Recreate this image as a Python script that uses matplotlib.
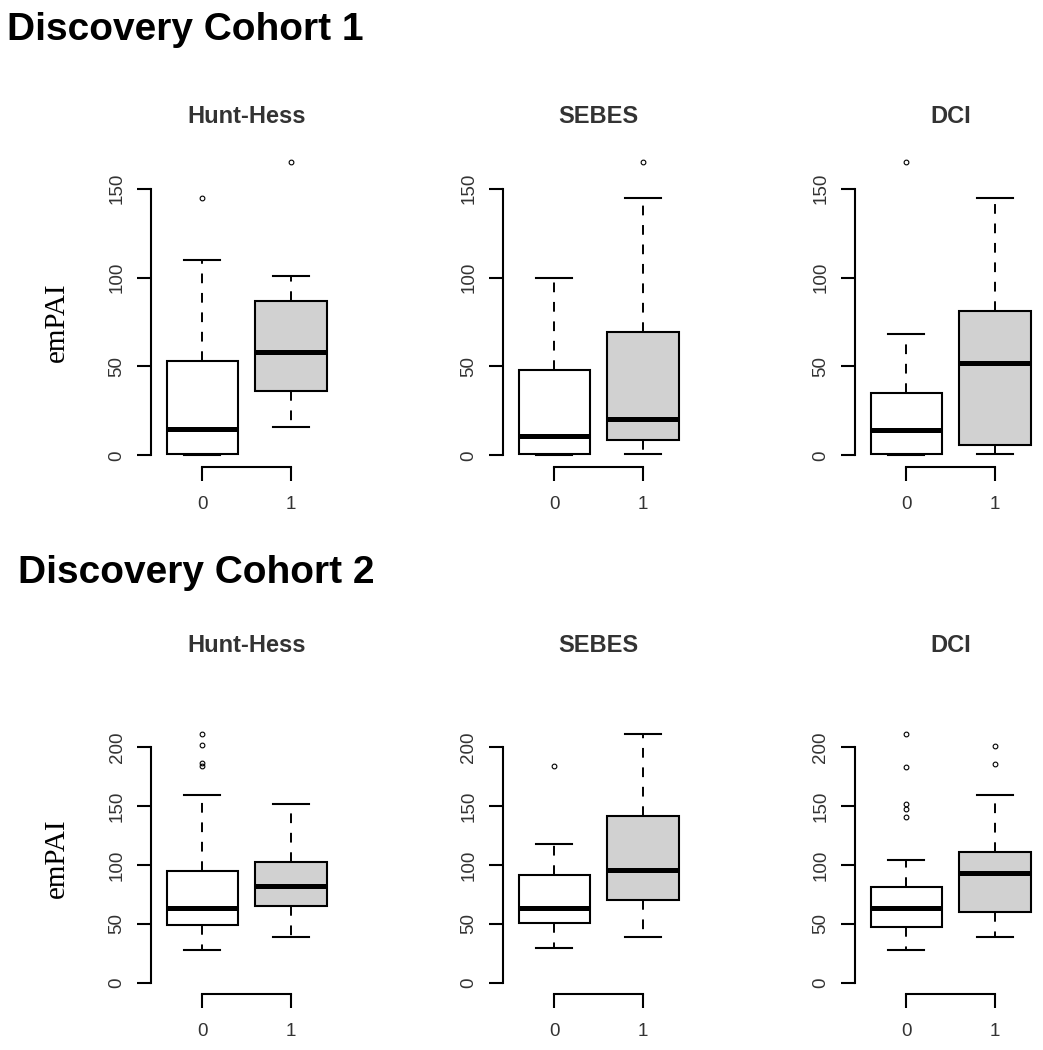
import matplotlib
matplotlib.use('Agg')
import matplotlib.pyplot as plt

# ---------------- data (box statistics) ----------------
cohorts = ["Discovery Cohort 1", "Discovery Cohort 2"]
panels = ["Hunt-Hess", "SEBES", "DCI"]
group_labels = ["0", "1"]

# each entry: [whisker low, Q1, median, Q3, whisker high]
c1_hunthess_0 = [0, 1, 15, 53, 110]
c1_hunthess_1 = [16, 36, 58, 87, 101]
c1_sebes_0 = [0, 1, 11, 48, 100]
c1_sebes_1 = [1, 8.6, 20.5, 69.5, 144.5]
c1_dci_0 = [0, 1, 14, 35, 68]
c1_dci_1 = [1, 6, 52, 81, 144.5]

c1_hunthess_out0 = [145]
c1_hunthess_out1 = [165]
c1_sebes_out0 = []
c1_sebes_out1 = [165]
c1_dci_out0 = [165]
c1_dci_out1 = []

c2_hunthess_0 = [28, 49, 63.5, 94.5, 159.5]
c2_hunthess_1 = [39, 65, 82, 102.5, 151.5]
c2_sebes_0 = [29.5, 51, 63.5, 91.5, 117.5]
c2_sebes_1 = [39, 70, 96, 141.5, 211.5]
c2_dci_0 = [28, 47, 63.5, 81.5, 104.5]
c2_dci_1 = [39, 60, 93, 111, 159.5]

c2_hunthess_out0 = [211, 202, 187, 184]
c2_hunthess_out1 = []
c2_sebes_out0 = [184]
c2_sebes_out1 = []
c2_dci_out0 = [211, 183, 152, 148, 141]
c2_dci_out1 = [201, 186]

yticks_c1 = [0, 50, 100, 150]
yticks_c2 = [0, 50, 100, 150, 200]
ylabel = "emPAI"

# ---------------- layout ----------------
W, H = 1043, 1050
fig = plt.figure(figsize=(W / 100, H / 100), dpi=100)

def fx(px):
    return px / W

def fy(py):
    return 1 - py / H

SANS = "Liberation Sans"
SERIF = "Liberation Serif"
col_left = [150.5, 502.5, 854.5]
ax_w = 192.2

rows = [
    dict(stats=[(c1_hunthess_0, c1_hunthess_out0, c1_hunthess_1, c1_hunthess_out1),
                (c1_sebes_0, c1_sebes_out0, c1_sebes_1, c1_sebes_out1),
                (c1_dci_0, c1_dci_out0, c1_dci_1, c1_dci_out1)],
         top=150.4, bottom=467.0, ylim=(-6.58, 171.55), yticks=yticks_c1,
         title_base=123.3, head=(7, 40), ylab_y=322),
    dict(stats=[(c2_hunthess_0, c2_hunthess_out0, c2_hunthess_1, c2_hunthess_out1),
                (c2_sebes_0, c2_sebes_out0, c2_sebes_1, c2_sebes_out1),
                (c2_dci_0, c2_dci_out0, c2_dci_1, c2_dci_out1)],
         top=690.0, bottom=994.3, ylim=(-9.86, 248.7), yticks=yticks_c2,
         title_base=651.7, head=(18, 583), ylab_y=858),
]

def mkstat(v, out, lab):
    return dict(whislo=v[0], q1=v[1], med=v[2], q3=v[3], whishi=v[4], fliers=out, label=lab)

for r, row in enumerate(rows):
    fig.text(fx(row["head"][0]), fy(row["head"][1]), cohorts[r], fontsize=28,
             fontweight="bold", family=SANS, ha="left", va="baseline", color="black")
    for c in range(3):
        g0, o0, g1, o1 = row["stats"][c]
        left = col_left[c]
        ax = fig.add_axes([fx(left), fy(row["bottom"]), fx(ax_w),
                           (row["bottom"] - row["top"]) / H])
        st = [mkstat(g0, o0, group_labels[0]), mkstat(g1, o1, group_labels[1])]
        res = ax.bxp(st, positions=[1, 2], widths=0.8, patch_artist=True,
                     boxprops=dict(linewidth=1.5, edgecolor="black"),
                     medianprops=dict(color="black", linewidth=3.6, solid_capstyle="butt"),
                     whiskerprops=dict(color="black", linewidth=1.4, linestyle=(0, (5, 5))),
                     capprops=dict(color="black", linewidth=1.5),
                     capwidths=0.4,
                     flierprops=dict(marker="o", markersize=3.4, markerfacecolor="none",
                                     markeredgecolor="black", markeredgewidth=0.8))
        res["boxes"][0].set_facecolor("white")
        res["boxes"][1].set_facecolor("#d1d1d1")
        ax.set_xlim(0.42, 2.58)
        ax.set_ylim(*row["ylim"])
        for s in ["top", "right"]:
            ax.spines[s].set_visible(False)
        ax.spines["left"].set_bounds(row["yticks"][0], row["yticks"][-1])
        ax.spines["bottom"].set_bounds(1, 2)
        for s in ["left", "bottom"]:
            ax.spines[s].set_linewidth(1.5)
        ax.patch.set_alpha(0)
        ax.set_xticks([1, 2])
        ax.set_xticklabels(group_labels, family=SANS, fontsize=13.5, color="#333333")
        ax.set_yticks(row["yticks"])
        ax.set_yticklabels([str(t) for t in row["yticks"]], family=SANS, fontsize=13.5,
                           color="#333333", rotation=90, va="center")
        ax.tick_params(axis="both", length=10, width=1.5)
        ax.tick_params(axis="y", pad=8)
        ax.tick_params(axis="x", pad=11)
        cx = left + ax_w / 2
        fig.text(fx(cx), fy(row["title_base"]), panels[c], fontsize=17, fontweight="bold",
                 family=SANS, ha="center", va="baseline", color="#333333")
        if c == 0:
            fig.text(fx(57), fy(row["ylab_y"]), ylabel, fontsize=21, family=SERIF,
                     rotation=90, ha="center", va="center", color="black")

fig.savefig("out.png", dpi=100)
